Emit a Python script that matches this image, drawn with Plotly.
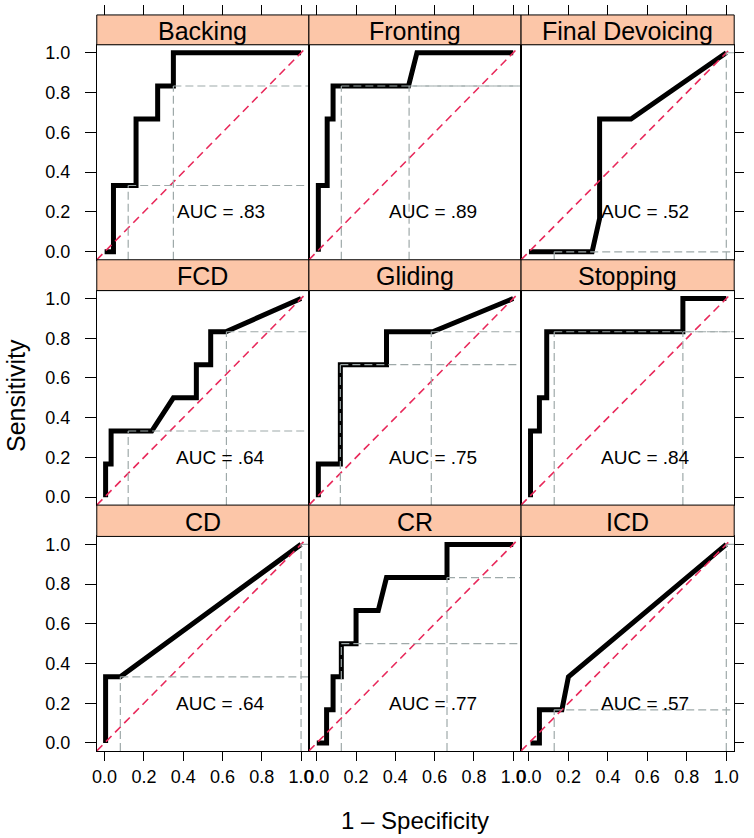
import plotly.graph_objects as go

# ---------------- data ----------------
panels = ["Backing", "Fronting", "Final Devoicing",
          "FCD", "Gliding", "Stopping",
          "CD", "CR", "ICD"]
auc_text = ["AUC = .83", "AUC = .89", "AUC = .52",
            "AUC = .64", "AUC = .75", "AUC = .84",
            "AUC = .64", "AUC = .77", "AUC = .57"]

backing_fpr = [0, 0.045, 0.045, 0.16, 0.16, 0.27, 0.27, 0.35, 0.35, 1]
backing_tpr = [0, 0, 0.333, 0.333, 0.667, 0.667, 0.833, 0.833, 1, 1]
fronting_fpr = [0.008, 0.008, 0.053, 0.053, 0.083, 0.083, 0.467, 0.51, 1]
fronting_tpr = [0, 0.333, 0.333, 0.667, 0.667, 0.833, 0.833, 1, 1]
findev_fpr = [0, 0.32, 0.358, 0.358, 0.517, 1]
findev_tpr = [0, 0, 0.167, 0.667, 0.667, 1]
fcd_fpr = [0.005, 0.005, 0.033, 0.033, 0.24, 0.35, 0.467, 0.467, 0.54, 0.54, 0.617, 1]
fcd_tpr = [0, 0.167, 0.167, 0.333, 0.333, 0.5, 0.5, 0.667, 0.667, 0.833, 0.833, 1]
gliding_fpr = [0.008, 0.008, 0.12, 0.12, 0.355, 0.355, 0.59, 1]
gliding_tpr = [0, 0.167, 0.167, 0.667, 0.667, 0.833, 0.833, 1]
stopping_fpr = [0.008, 0.008, 0.053, 0.053, 0.09, 0.09, 0.78, 0.78, 1]
stopping_tpr = [0, 0.333, 0.333, 0.5, 0.5, 0.833, 0.833, 1, 1]
cd_fpr = [0.005, 0.005, 0.08, 1]
cd_tpr = [0, 0.333, 0.333, 1]
cr_fpr = [0, 0.05, 0.05, 0.083, 0.083, 0.125, 0.125, 0.2, 0.2, 0.313, 0.355, 0.663, 0.663, 1]
cr_tpr = [0, 0, 0.167, 0.167, 0.333, 0.333, 0.5, 0.5, 0.667, 0.667, 0.833, 0.833, 1, 1]
icd_fpr = [0.008, 0.053, 0.053, 0.167, 0.2, 1]
icd_tpr = [0, 0, 0.167, 0.167, 0.333, 1]

roc_fpr = [backing_fpr, fronting_fpr, findev_fpr, fcd_fpr, gliding_fpr,
           stopping_fpr, cd_fpr, cr_fpr, icd_fpr]
roc_tpr = [backing_tpr, fronting_tpr, findev_tpr, fcd_tpr, gliding_tpr,
           stopping_tpr, cd_tpr, cr_tpr, icd_tpr]

# cut-off reference points (1 - specificity, sensitivity)
cut_fpr = [[0.12, 0.35], [0.125, 0.47], [0.128, 1.0],
           [0.12, 0.62], [0.12, 0.583], [0.128, 0.78],
           [0.08, 1.0], [0.125, 0.663], [0.128, 1.0]]
cut_tpr = [[0.333, 0.833], [0.833, 0.833], [0.0, 1.0],
           [0.333, 0.833], [0.667, 0.833], [0.833, 0.833],
           [0.333, 1.0], [0.5, 0.833], [0.167, 1.0]]

tick_vals = [0, 0.2, 0.4, 0.6, 0.8, 1.0]
tick_text = ["0.0", "0.2", "0.4", "0.6", "0.8", "1.0"]
axis_range = [-0.04, 1.04]
diag_range = [-0.04, 1.02]

# ---------------- layout geometry ----------------
W, H = 754, 838
col_px = [(93, 308), (308, 523), (523, 739)]
row_plot_px = [(43, 259), (290, 505.5), (537, 752.5)]
row_strip_px = [(13, 43), (259, 290), (505.5, 537)]

def fx(px):
    return px / W

def fy(py):
    return 1 - py / H

FONT = "Liberation Sans, Arial, sans-serif"
STRIP_FILL = "#FCC6A8"
GREY = "#9EA9A9"
RED = "#E8285A"

fig = go.Figure()
layout = dict(width=W, height=H, margin=dict(l=0, r=0, t=0, b=0),
              paper_bgcolor="white", plot_bgcolor="white", showlegend=False,
              font=dict(family=FONT, color="black"))
shapes = []
annotations = []

for i, name in enumerate(panels):
    r, c = divmod(i, 3)
    k = i + 1
    xa = "x" if k == 1 else f"x{k}"
    ya = "y" if k == 1 else f"y{k}"
    xkey = "xaxis" if k == 1 else f"xaxis{k}"
    ykey = "yaxis" if k == 1 else f"yaxis{k}"

    # ROC curve
    fig.add_trace(go.Scatter(x=roc_fpr[i], y=roc_tpr[i], mode="lines",
                             line=dict(color="black", width=5),
                             xaxis=xa, yaxis=ya, hoverinfo="skip"))
    # diagonal reference
    fig.add_trace(go.Scatter(x=diag_range, y=diag_range, mode="lines",
                             line=dict(color=RED, width=1.6, dash="8px,5px"),
                             xaxis=xa, yaxis=ya, hoverinfo="skip"))
    # cut-off dashed lines
    gx, gy = [], []
    for cx, cy in zip(cut_fpr[i], cut_tpr[i]):
        gx += [cx, cx, None, cx, axis_range[1], None]
        gy += [axis_range[0], cy, None, cy, cy, None]
    fig.add_trace(go.Scatter(x=gx, y=gy, mode="lines",
                             line=dict(color=GREY, width=1.2, dash="8px,4px"),
                             xaxis=xa, yaxis=ya, hoverinfo="skip"))

    x0, x1 = col_px[c]
    y0, y1 = row_plot_px[r]
    xaxis = dict(domain=[fx(x0), fx(x1)], range=axis_range, anchor=ya,
                 showgrid=False, zeroline=False, showline=True,
                 linecolor="black", linewidth=1, mirror=True, fixedrange=True,
                 tickvals=tick_vals, ticktext=tick_text,
                 tickfont=dict(size=18, family=FONT, color="black"))
    if r == 2:
        xaxis.update(ticks="outside", ticklen=9, tickcolor="black",
                     showticklabels=True)
    else:
        xaxis.update(ticks="", showticklabels=False)
    yaxis = dict(domain=[fy(y1), fy(y0)], range=axis_range, anchor=xa,
                 showgrid=False, zeroline=False, showline=True,
                 linecolor="black", linewidth=1, mirror=True, fixedrange=True,
                 tickvals=tick_vals, ticktext=tick_text,
                 tickfont=dict(size=18, family=FONT, color="black"))
    if c == 0:
        yaxis.update(ticks="outside", ticklen=11, tickcolor="black",
                     showticklabels=True, side="left", ticklabelstandoff=11)
    elif c == 2:
        yaxis.update(ticks="outside", ticklen=9, tickcolor="black",
                     showticklabels=False, side="right")
    else:
        yaxis.update(ticks="", showticklabels=False)
    layout[xkey] = xaxis
    layout[ykey] = yaxis

    # strip
    s0, s1 = row_strip_px[r]
    shapes.append(dict(type="rect", xref="paper", yref="paper",
                       x0=fx(x0), x1=fx(x1), y0=fy(s1), y1=fy(s0),
                       fillcolor=STRIP_FILL, line=dict(color="black", width=1),
                       layer="above"))
    annotations.append(dict(xref="paper", yref="paper",
                            x=fx((x0 + x1) / 2), y=fy((s0 + s1) / 2 + 1),
                            text=name, showarrow=False,
                            font=dict(size=25, family=FONT, color="black"),
                            xanchor="center", yanchor="middle"))
    # AUC label
    annotations.append(dict(xref=xa, yref=ya, x=0.59, y=0.2, text=auc_text[i],
                            showarrow=False, xanchor="center", yanchor="middle",
                            font=dict(size=19, family=FONT, color="black")))

# top ticks above the strips for the first row
for c in range(3):
    k = 10 + c
    base = "x" if c == 0 else f"x{c + 1}"
    yref = "y" if c == 0 else f"y{c + 1}"
    layout[f"xaxis{k}"] = dict(overlaying=base, side="top", anchor="free",
                               position=fy(13), range=axis_range,
                               tickvals=tick_vals, ticks="outside", ticklen=10,
                               tickcolor="black", showticklabels=False,
                               showline=False, showgrid=False, zeroline=False,
                               fixedrange=True)
    fig.add_trace(go.Scatter(x=[None], y=[None], xaxis=f"x{k}", yaxis=yref,
                             mode="lines", hoverinfo="skip"))

annotations.append(dict(xref="paper", yref="paper", x=fx(11), y=fy(395),
                        text="Sensitivity", textangle=-90, showarrow=False,
                        xanchor="center", yanchor="middle",
                        font=dict(size=25, family=FONT, color="black")))
annotations.append(dict(xref="paper", yref="paper", x=fx(416), y=fy(822),
                        text="1 \u2013 Specificity", showarrow=False,
                        xanchor="center", yanchor="middle",
                        font=dict(size=24, family=FONT, color="black")))

layout["shapes"] = shapes
layout["annotations"] = annotations
fig.update_layout(**layout)
fig.write_html("out.html",
               config={"displayModeBar": False},
               post_script="document.body.style.margin='0';"
                           "document.body.style.overflow='hidden';")
